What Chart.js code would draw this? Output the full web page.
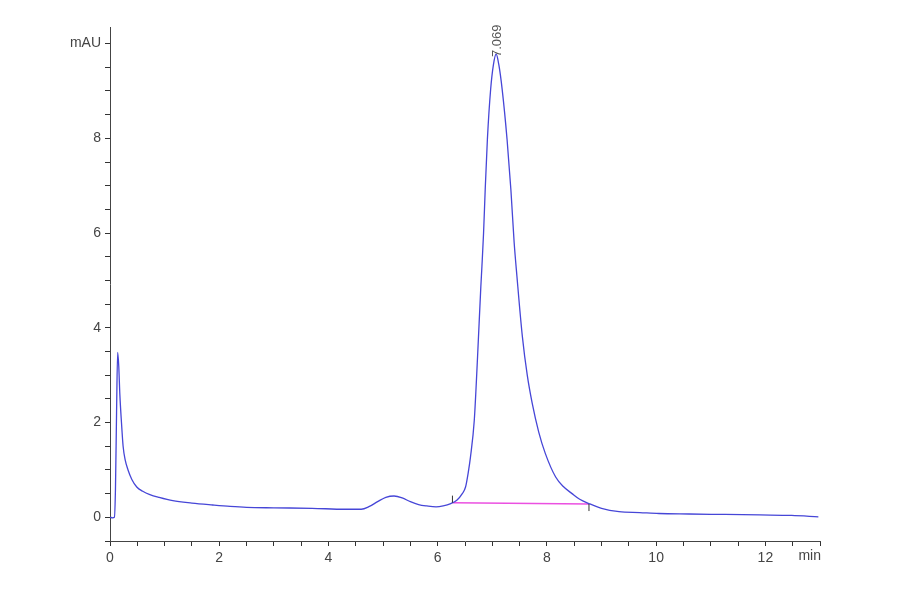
<!DOCTYPE html>
<html lang="en">
<head>
    <meta charset="UTF-8">
    <title>Chromatogram</title>
    <script src="https://cdn.jsdelivr.net/npm/chart.js"></script>
    <style>
        body {
            margin: 0;
            background-color: #ffffff;
        }
        canvas {
            display: block;
        }
    </style>
</head>
<body>
    <canvas id="chart" width="900" height="594"></canvas>

    <script>
        // retention time (min) and signal (mAU)
        const times = [0.00, 0.05, 0.08, 0.10, 0.12, 0.14, 0.16, 0.18, 0.21, 0.24, 0.28, 0.33, 0.40, 0.49, 0.60,
            0.73, 0.90, 1.15, 1.50, 1.88, 2.20, 2.50, 3.00, 3.70, 4.30, 4.60, 4.75, 4.90, 5.05, 5.20,
            5.35, 5.50, 5.65, 5.80, 5.97, 6.10, 6.24, 6.35, 6.45, 6.51, 6.56, 6.60, 6.67, 6.73, 6.79,
            6.81, 6.84, 6.87, 6.91, 6.97, 7.02, 7.07, 7.12, 7.18, 7.27, 7.34, 7.40, 7.45, 7.55, 7.64,
            7.73, 7.85, 7.97, 8.16, 8.30, 8.46, 8.60, 8.77, 9.00, 9.32, 9.70, 10.05, 10.60, 11.26, 11.90,
            12.48, 12.97];
        const signal = [0.00, -0.01, 0.00, 0.60, 2.20, 3.48, 3.20, 2.60, 2.00, 1.50, 1.20, 1.00, 0.80, 0.64, 0.55,
            0.48, 0.42, 0.35, 0.30, 0.26, 0.23, 0.21, 0.20, 0.19, 0.17, 0.17, 0.23, 0.33, 0.42, 0.45,
            0.41, 0.33, 0.27, 0.24, 0.22, 0.24, 0.29, 0.36, 0.50, 0.64, 0.95, 1.27, 2.05, 3.39, 4.87,
            5.30, 6.00, 6.92, 7.98, 9.04, 9.55, 9.78, 9.55, 9.04, 7.98, 6.92, 5.80, 5.10, 3.82, 3.00,
            2.41, 1.80, 1.35, 0.85, 0.65, 0.50, 0.38, 0.29, 0.19, 0.12, 0.10, 0.08, 0.07, 0.06, 0.05,
            0.04, 0.01];

        // integration baseline of the main peak
        const baseTimes = [6.27, 8.77];
        const baseValues = [0.31, 0.28];

        const peakTime = 7.069;
        const peakValue = 9.78;
        const peakLabel = '7.069';

        const xUnit = 'min';
        const yUnit = 'mAU';

        const font = { family: '"Liberation Sans Narrow", "Liberation Sans", Arial, sans-serif', size: 14 };

        const trace = times.map((t, i) => ({ x: t, y: signal[i] }));
        const baseline = baseTimes.map((t, i) => ({ x: t, y: baseValues[i] }));

        const peakText = {
            id: 'peakText',
            afterDatasetsDraw(chart) {
                const { ctx, scales } = chart;
                const px = scales.x.getPixelForValue(peakTime);
                const py = scales.y.getPixelForValue(peakValue);
                ctx.save();
                ctx.fillStyle = '#555';
                ctx.font = '13px "Liberation Sans", Arial, sans-serif';
                ctx.translate(px + 1, py + 3);
                ctx.rotate(-Math.PI / 2);
                ctx.textAlign = 'left';
                ctx.textBaseline = 'middle';
                ctx.fillText(peakLabel, 0, 0);
                ctx.restore();

                // start / end marks of the integration
                ctx.save();
                ctx.strokeStyle = '#333';
                ctx.lineWidth = 1;
                baseline.forEach((p, i) => {
                    const bx = scales.x.getPixelForValue(p.x);
                    const by = scales.y.getPixelForValue(p.y);
                    ctx.beginPath();
                    ctx.moveTo(bx, by);
                    ctx.lineTo(bx, i === 0 ? by - 7 : by + 7);
                    ctx.stroke();
                });
                ctx.restore();

                // unit label at the end of the time axis
                ctx.save();
                ctx.fillStyle = '#444';
                ctx.font = '14px ' + font.family;
                ctx.textAlign = 'right';
                ctx.textBaseline = 'top';
                ctx.fillText(xUnit, scales.x.getPixelForValue(13) + 1, scales.x.top + 8);
                ctx.restore();
            }
        };

        const ctx = document.getElementById('chart').getContext('2d');
        new Chart(ctx, {
            type: 'scatter',
            data: {
                datasets: [
                    {
                        label: 'Signal',
                        data: trace,
                        showLine: true,
                        borderColor: 'rgba(70, 70, 215, 1)',
                        borderWidth: 1.3,
                        pointRadius: 0,
                        cubicInterpolationMode: 'monotone'
                    },
                    {
                        label: 'Baseline',
                        data: baseline,
                        showLine: true,
                        borderColor: 'rgba(235, 80, 225, 1)',
                        borderWidth: 1.5,
                        pointRadius: 0
                    }
                ]
            },
            plugins: [peakText],
            options: {
                responsive: false,
                animation: false,
                layout: {
                    padding: { left: 0, right: 80, top: 27, bottom: 0 }
                },
                plugins: {
                    legend: { display: false },
                    tooltip: { enabled: false }
                },
                scales: {
                    x: {
                        type: 'linear',
                        min: 0,
                        max: 13,
                        afterFit: (scale) => { scale.height = 53; },
                        ticks: {
                            stepSize: 0.5,
                            autoSkip: false,
                            maxRotation: 0,
                            color: '#444',
                            font: font,
                            padding: 4,
                            callback: (v) => (v % 2 === 0 ? String(v) : '')
                        },
                        grid: {
                            drawOnChartArea: false,
                            tickLength: 5,
                            color: '#333'
                        },
                        border: { color: '#444', width: 1 }
                    },
                    y: {
                        min: -0.5,
                        max: 10.35,
                        afterFit: (scale) => { scale.width = 110; },
                        afterBuildTicks: (scale) => {
                            const t = [];
                            for (let v = -0.5; v <= 10; v += 0.5) t.push({ value: v });
                            scale.ticks = t;
                        },
                        ticks: {
                            color: '#444',
                            font: font,
                            padding: 4,
                            callback: (v) => (v === 10 ? yUnit : (v % 2 === 0 ? String(v) : ''))
                        },
                        grid: {
                            drawOnChartArea: false,
                            tickLength: 5,
                            color: '#333'
                        },
                        border: { color: '#444', width: 1 }
                    }
                }
            }
        });
    </script>
</body>
</html>
